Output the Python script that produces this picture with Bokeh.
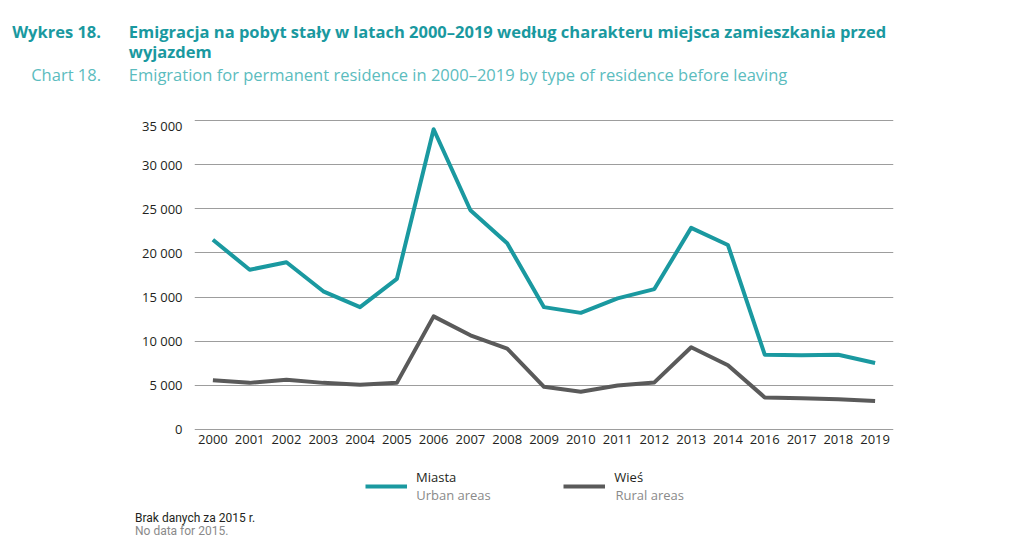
from bokeh.plotting import figure
from bokeh.layouts import column, row
from bokeh.models import (FactorRange, Range1d, FixedTicker, Label, Legend, LegendItem)
from bokeh.embed import file_html
from bokeh.resources import INLINE

years = ["2000", "2001", "2002", "2003", "2004", "2005", "2006", "2007", "2008", "2009",
         "2010", "2011", "2012", "2013", "2014", "2016", "2017", "2018", "2019"]
urban = [21500, 18100, 18950, 15650, 13850, 17050, 34050, 24850, 21100, 13850,
         13200, 14850, 15900, 22850, 20900, 8450, 8400, 8450, 7500]
rural = [5550, 5250, 5600, 5250, 5050, 5250, 12800, 10650, 9150, 4800,
         4250, 4950, 5300, 9300, 7250, 3600, 3500, 3400, 3200]
y_ticks = [0, 5000, 10000, 15000, 20000, 25000, 30000, 35000]
y_tick_labels = ["0", "5 000", "10 000", "15 000", "20 000", "25 000", "30 000", "35 000"]

TEAL = "#1a99a0"
TEAL_LIGHT = "#5bbcbe"
GREY_LINE = "#5a5a5a"
TXT = "#231f20"
SUB = "#8a8a8a"
FONT = "Open Sans"
W = 1016


def blank_fig(height, y_top, y_bottom):
    f = figure(width=W, height=height, x_range=Range1d(0, W),
               y_range=Range1d(y_bottom, y_top), output_backend="svg",
               toolbar_location=None, x_axis_location=None, y_axis_location=None,
               min_border_left=0, min_border_right=0, min_border_top=0,
               min_border_bottom=0)
    f.grid.visible = False
    f.outline_line_color = None
    f.background_fill_color = "white"
    f.border_fill_color = "white"
    return f


def lab(f, text, x, baseline, color, size, style="normal", align="left", font=FONT):
    # text is vertically centred on y; shift so that its baseline lands on `baseline`
    y = baseline - 0.38 * size
    f.add_layout(Label(x=x, y=y, text=text, text_color=color, text_font=font,
                       text_font_size=f"{size}px", text_font_style=style,
                       text_align=align, text_baseline="middle"))


# ---------- title block ----------
top = blank_fig(116, 0, 116)
lab(top, "Wykres 18.", 100.5, 37.7, TEAL, 16.5, "bold", "right")
lab(top, "Emigracja na pobyt stały w latach 2000–2019 według charakteru miejsca zamieszkania przed",
    128.3, 37.7, TEAL, 16.5, "bold")
lab(top, "wyjazdem", 128.3, 57.7, TEAL, 16.5, "bold")
lab(top, "Chart 18.", 100.5, 80, TEAL_LIGHT, 16.5, "normal", "right")
lab(top, "Emigration for permanent residence in 2000–2019 by type of residence before leaving",
    128.3, 80, TEAL_LIGHT, 16.5)

# ---------- main chart ----------
p = figure(width=W, height=347, x_range=FactorRange(*years),
           y_range=Range1d(-500, 35500), output_backend="svg", toolbar_location=None,
           min_border_left=194, min_border_right=123, min_border_top=0,
           min_border_bottom=30)
p.outline_line_color = None
p.background_fill_color = "white"
p.border_fill_color = "white"

p.line(x=years, y=urban, line_color=TEAL, line_width=4, line_join="round")
p.line(x=years, y=rural, line_color=GREY_LINE, line_width=4, line_join="round")

p.xgrid.grid_line_color = None
p.ygrid.grid_line_color = "#9d9d9d"
p.ygrid.grid_line_width = 1
p.ygrid.ticker = FixedTicker(ticks=y_ticks)

ya = p.yaxis[0]
ya.ticker = FixedTicker(ticks=y_ticks)
ya.major_label_overrides = {t: l for t, l in zip(y_ticks, y_tick_labels)}
ya.axis_line_color = None
ya.major_tick_line_color = None
ya.minor_tick_line_color = None
ya.major_tick_out = 0
ya.major_tick_in = 0
ya.major_label_standoff = 12
ya.major_label_text_font = FONT
ya.major_label_text_font_size = "13px"
ya.major_label_text_color = TXT

xa = p.xaxis[0]
xa.axis_line_color = None
xa.major_tick_line_color = None
xa.minor_tick_line_color = None
xa.major_tick_out = 0
xa.major_tick_in = 0
xa.major_label_standoff = 1
xa.major_label_text_font = FONT
xa.major_label_text_font_size = "13px"
xa.major_label_text_color = TXT

# ---------- legend + footnote block ----------
BOT_TOP = 463
BOT_H = 554 - 8 - BOT_TOP
bot = blank_fig(BOT_H, BOT_TOP, BOT_TOP + BOT_H)
idx = list(range(len(years)))
proxy_u = bot.line(x=idx, y=urban, line_color=TEAL, line_width=4, visible=False)
proxy_r = bot.line(x=idx, y=rural, line_color=GREY_LINE, line_width=4, visible=False)


def mk_legend(label, renderer, x):
    lg = Legend(items=[LegendItem(label=label + "\n\u00a0", renderers=[renderer])],
                location=(x, BOT_TOP + BOT_H - 504), orientation="horizontal",
                padding=0, margin=0, border_line_color=None,
                background_fill_alpha=0, inactive_fill_alpha=0,
                glyph_width=42, glyph_height=30,
                label_height=30, label_standoff=9,
                label_text_font=FONT, label_text_font_size="13px",
                label_text_line_height=1.25,
                label_text_color=TXT, label_text_baseline="middle")
    bot.add_layout(lg, "center")


mk_legend("Miasta", proxy_u, 365)
mk_legend("Wieś", proxy_r, 563.3)
lab(bot, "Urban areas", 415.7, 499.5, SUB, 13)
lab(bot, "Rural areas", 615, 499.5, SUB, 13)
lab(bot, "Brak danych za 2015 r.", 134.5, 522, TXT, 12, font="Roboto")
lab(bot, "No data for 2015.", 134.5, 535, SUB, 12, font="Roboto")

layout = column(row(top), p, row(bot), spacing=0)
open("out.html", "w").write(file_html(layout, INLINE))
